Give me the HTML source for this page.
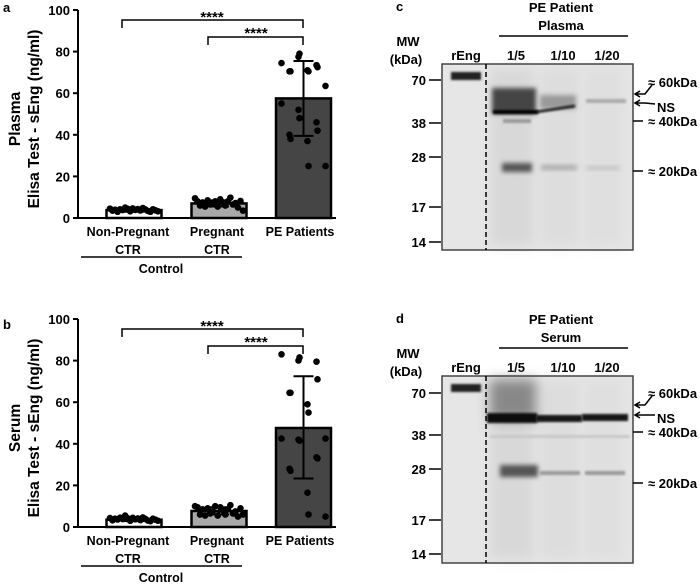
<!DOCTYPE html>
<html><head><meta charset="utf-8">
<style>
html,body{margin:0;padding:0;background:#fff;}
svg{display:block;font-family:"Liberation Sans",sans-serif;font-weight:bold;}
</style></head>
<body>
<svg id="fig" width="700" height="586" viewBox="0 0 700 586">
<defs>
<filter id="b1" x="-50%" y="-50%" width="200%" height="200%"><feGaussianBlur stdDeviation="2.5"/></filter>
<filter id="b2" x="-50%" y="-50%" width="200%" height="200%"><feGaussianBlur stdDeviation="1"/></filter>
<filter id="b3" x="-50%" y="-50%" width="200%" height="200%"><feGaussianBlur stdDeviation="6"/></filter>
</defs>
<g id="charts"></g>
<g id="gels"></g>
</svg>
<script>
const categories = ["Non-Pregnant CTR", "Pregnant CTR", "PE Patients"];
const plasmaMeans = [3.8, 7.0, 57.5];
const plasmaErrLow = [3.0, 5.5, 39.5];
const plasmaErrHigh = [4.6, 8.5, 75.5];
const plasmaNonPreg = [4.5,3.5,4.0,3.0,4.2,3.8,5.0,4.4,3.2,4.6,3.9,4.3,3.6,4.8,4.1,3.4,3.0,4.2,3.7,3.2];
const plasmaPreg = [9.5,8.0,6.0,7.5,5.5,8.5,6.5,7.0,8.0,5.5,9.0,7.5,6.0,8.0,9.8,6.5,7.2,5.0,8.2,3.5];
const plasmaPE = [74.5,77.5,79,73.5,72.5,70.5,70.5,71,70.5,63.5,55,52,48,46,42,40,38,37,25,25];
const serumMeans = [3.5, 7.7, 47.6];
const serumErrLow = [2.8, 6.0, 23.3];
const serumErrHigh = [4.3, 9.5, 72.5];
const serumNonPreg = [4.3,3.2,4.0,3.6,4.5,3.8,5.5,4.2,3.0,4.4,3.7,4.1,3.3,4.6,3.9,3.1,2.8,4.0,3.5,3.0];
const serumPreg = [10,9.5,6.0,8.5,5.5,9.0,6.5,7.5,10,5.5,9.5,8.0,6.0,8.5,10.5,6.5,7.5,5.0,9.0,6.0];
const serumPE = [83,80,81.5,79.5,71,64.5,64.5,59,55,42.5,42.5,42,41.5,33.5,33,28,27,16.5,6,5];
const yTicks = [0,20,40,60,80,100];
const NS = "http://www.w3.org/2000/svg";

function mk(parent, tag, attrs, text){
  const e = document.createElementNS(NS, tag);
  for (const k in attrs) e.setAttribute(k, attrs[k]);
  if (text !== undefined) e.textContent = text;
  parent.appendChild(e);
  return e;
}

function drawChart(off, label, title, means, lo, hi, groups){
  const root = document.getElementById('charts');
  const g = mk(root, 'g', {});
  
  
  const y0 = 218 + off, yTop = 10 + off;
  const yScale = v => y0 - (v/100)*(y0 - yTop);
  const xL = 78;
  const centers = [134, 219, 303.5];
  const bw = 55;
  const fills = ['#ffffff', '#a9a9a9', '#454545'];
  const pl = mk(g, 'text', {x:3, y:12+off+(label==='b'?8:0), 'font-size':13}, label);
  
  
  const t1 = mk(g, 'text', {x:0, y:0, 'font-size':15.5, 'text-anchor':'middle', transform:`translate(20,${(y0+yTop)/2+5}) rotate(-90)`}, title);
  
  
  const t2 = mk(g, 'text', {x:0, y:0, 'font-size':15.5, 'text-anchor':'middle', transform:`translate(39,${(y0+yTop)/2+5}) rotate(-90)`}, 'Elisa Test - sEng (ng/ml)');
  
  
  const ax = mk(g, 'line', {x1:xL, y1:yTop, x2:xL, y2:y0+1, stroke:'#000', 'stroke-width':2});
  
  
  const xa = mk(g, 'line', {x1:xL-1, y1:y0, x2:336, y2:y0, stroke:'#000', 'stroke-width':2});
  
  
  yTicks.forEach(t => {
    const y = yScale(t);
    const tk = mk(g, 'line', {x1:xL-5, y1:y, x2:xL, y2:y, stroke:'#000', 'stroke-width':2});
    
    
    const tl = mk(g, 'text', {x:xL-8, y:y+5, 'font-size':13, 'text-anchor':'end'}, String(t));
    
    
  });
  means.forEach((m, i) => {
    const yT = yScale(m);
    const r = mk(g, 'rect', {x:centers[i]-bw/2, y:yT, width:bw, height:y0-yT, fill:fills[i], stroke:'#000', 'stroke-width':2.5});
    
    
  });
  groups.forEach((vals, i) => {
    const n = vals.length;
    vals.forEach((v, j) => {
      const span = i === 2 ? 36 : 24;
      const dx = (i === 2) ? ((j % 5) - 2) * (span/2) * 0.5 + ((j%2)?4:-4) : (j/(n-1) - 0.5) * 2 * span;
      const c = mk(g, 'circle', {cx:centers[i]+dx, cy:yScale(v), r:3.3, fill:'#000'});
      
      
    });
  });
  means.forEach((m, i) => {
    const a = yScale(lo[i]), b = yScale(hi[i]);
    const e = mk(g, 'path', {d:`M${centers[i]} ${a}V${b}M${centers[i]-10} ${a}h20M${centers[i]-10} ${b}h20`, stroke:'#000', 'stroke-width':2, fill:'none'});
    
    
  });
  const br1 = mk(g, 'path', {d:`M122 ${28+off}V${20+off}H303V${28+off}`, stroke:'#000', 'stroke-width':1.5, fill:'none'});
  
  
  const s1 = mk(g, 'text', {x:212, y:22+off, 'font-size':15, 'text-anchor':'middle'}, '****');
  
  
  const br2 = mk(g, 'path', {d:`M208 ${45+off}V${37+off}H303V${45+off}`, stroke:'#000', 'stroke-width':1.5, fill:'none'});
  
  
  const s2 = mk(g, 'text', {x:256, y:38+off, 'font-size':15, 'text-anchor':'middle'}, '****');
  
  
  const lbls = [['Non-Pregnant','CTR',128],['Pregnant','CTR',217],['PE Patients','',300]];
  lbls.forEach(([a,b,x], i) => {
    const l = mk(g, 'text', {x:x, y:236+off, 'font-size':12.5, 'text-anchor':'middle'}, a);
    
    
    if (b){
      const l2 = mk(g, 'text', {x:x, y:254+off, 'font-size':12.5, 'text-anchor':'middle'}, b);
      
      
    }
  });
  const cl = mk(g, 'line', {x1:81, y1:257+off, x2:242, y2:257+off, stroke:'#000', 'stroke-width':1.5});
  
  
  const ct = mk(g, 'text', {x:161, y:273+off, 'font-size':12.5, 'text-anchor':'middle'}, 'Control');
  
  
}

drawChart(0, 'a', 'Plasma', plasmaMeans, plasmaErrLow, plasmaErrHigh, [plasmaNonPreg, plasmaPreg, plasmaPE]);
drawChart(309, 'b', 'Serum', serumMeans, serumErrLow, serumErrHigh, [serumNonPreg, serumPreg, serumPE]);

const mwLabels = ["70","38","28","17","14"];
function drawGel(off, label, sample, top, bottom, tickYs, serum, lab){
  const root = document.getElementById('gels');
  const g = mk(root, 'g', {});
  
  
  const T = (x,y,s,txt,anchor,name) => {
    const e = mk(g, 'text', {x:x, y:y+off, 'font-size':s, 'text-anchor':anchor||'start'}, txt);
    
    
    return e;
  };
  T(396, 11, 13, label, 'start', 'panel-label-'+label);
  T(561, 12, 13, 'PE Patient', 'middle', 'gel-title');
  T(561, 30, 13, sample, 'middle', 'gel-sample');
  const ln = mk(g, 'line', {x1:499, y1:36+off, x2:628, y2:36+off, stroke:'#000', 'stroke-width':1.5});
  
  
  T(408, 46, 13, 'MW', 'middle', 'mw-label');
  T(406, 64, 13, '(kDa)', 'middle', 'kda-label');
  T(466, 60, 13, 'rEng', 'middle', 'lane-label');
  T(516, 60, 13, '1/5', 'middle', 'lane-label');
  T(563, 60, 13, '1/10', 'middle', 'lane-label');
  T(607, 60, 13, '1/20', 'middle', 'lane-label');
  const bh = bottom - top;
  mk(g, 'rect', {x:442, y:top, width:191, height:bh, fill:'#e6e6e6'});
  const gg = mk(g, 'g', {});
  
  
  mk(gg, 'rect', {x:490, y:top+4, width:44, height:bh-8, fill:'#d8d8d8', filter:'url(#b3)'});
  mk(gg, 'rect', {x:540, y:top+4, width:40, height:bh-8, fill:'#dddddd', filter:'url(#b3)'});
  mk(gg, 'rect', {x:584, y:top+4, width:40, height:bh-8, fill:'#dfdfdf', filter:'url(#b3)'});
  const o = top - 64;
  mk(gg, 'rect', {x:451, y:72+o, width:30, height:8, fill:'#222', filter:'url(#b2)'});
  if (serum){
    mk(gg, 'rect', {x:490, y:68+o, width:46, height:40, fill:'#888', filter:'url(#b3)'});
    mk(gg, 'rect', {x:487, y:101+o, width:50, height:10, fill:'#111', filter:'url(#b2)'});
    mk(gg, 'rect', {x:536, y:103+o, width:46, height:7, fill:'#151515', filter:'url(#b2)'});
    mk(gg, 'rect', {x:582, y:102+o, width:46, height:7, fill:'#151515', filter:'url(#b2)'});
    mk(gg, 'rect', {x:500, y:153+o, width:38, height:12, fill:'#555', filter:'url(#b1)'});
    mk(gg, 'rect', {x:540, y:159+o, width:40, height:4, fill:'#999', filter:'url(#b2)'});
    mk(gg, 'rect', {x:585, y:159+o, width:40, height:4, fill:'#999', filter:'url(#b2)'});
    mk(gg, 'rect', {x:490, y:123+o, width:140, height:3, fill:'#c8c8c8', filter:'url(#b2)'});
  } else {
    mk(gg, 'rect', {x:492, y:88+o, width:44, height:26, fill:'#444', filter:'url(#b1)'});
    mk(gg, 'rect', {x:493, y:110+o, width:45, height:4, fill:'#000', filter:'url(#b2)'});
    mk(gg, 'rect', {x:540, y:95+o, width:36, height:14, fill:'#999', filter:'url(#b1)'});
    mk(gg, 'path', {d:`M536 ${112+o}L575 ${106+o}`, stroke:'#111', 'stroke-width':2.5, filter:'url(#b2)'});
    mk(gg, 'rect', {x:586, y:99+o, width:40, height:4, fill:'#aaa', filter:'url(#b2)'});
    mk(gg, 'rect', {x:503, y:119+o, width:28, height:4, fill:'#999', filter:'url(#b2)'});
    mk(gg, 'rect', {x:502, y:163+o, width:30, height:9, fill:'#555', filter:'url(#b1)'});
    mk(gg, 'rect', {x:541, y:165+o, width:36, height:5, fill:'#aaa', filter:'url(#b1)'});
    mk(gg, 'rect', {x:586, y:166+o, width:34, height:4, fill:'#c2c2c2', filter:'url(#b1)'});
  }
  const bx = mk(g, 'rect', {x:442, y:top, width:191, height:bh, fill:'none', stroke:'#444', 'stroke-width':1.5});
  
  
  const dl = mk(g, 'line', {x1:486, y1:top, x2:486, y2:bottom, stroke:'#000', 'stroke-width':1.5, 'stroke-dasharray':'5,3'});
  
  
  mwLabels.forEach((m, i) => {
    const y = tickYs[i];
    const tk = mk(g, 'line', {x1:429, y1:y, x2:441, y2:y, stroke:'#000', 'stroke-width':1.5});
    
    
    const tl = mk(g, 'text', {x:426, y:y+5, 'font-size':13, 'text-anchor':'end'}, m);
    
    
  });
  // lab: [60kDa label y, NS label y, 40kDa y, 20kDa y, arrow60 y, arrowNS y]
  const [l60, lns, l40, l20, a60, ans] = lab;
  const ar = mk(g, 'path', {d:`M652 ${l60+3}L645 ${a60}H636M640 ${a60-3}L635 ${a60}L640 ${a60+3}M655 ${lns-3}L645 ${ans}H636M640 ${ans-3}L635 ${ans}L640 ${ans+3}M633 ${l40}h10M633 ${l20}h10`, stroke:'#000', 'stroke-width':1.5, fill:'none'});
  
  
  const L = (y, txt, x, name) => {
    const e = mk(g, 'text', {x:x, y:y+5, 'font-size':13}, txt);
    
    
  };
  L(l60, '≈ 60kDa', 648, 'band-label-60kda');
  L(lns, 'NS', 657, 'band-label-ns');
  L(l40, '≈ 40kDa', 648, 'band-label-40kda');
  L(l20, '≈ 20kDa', 648, 'band-label-20kda');
}
drawGel(0, 'c', 'Plasma', 64, 250, [80,123,157,207,242], false, [82,107,121,171,94,103]);
drawGel(312, 'd', 'Serum', 376, 563, [393,435,469,520,554], true, [393,418,432,483,405,415]);
</script>
</body></html>
